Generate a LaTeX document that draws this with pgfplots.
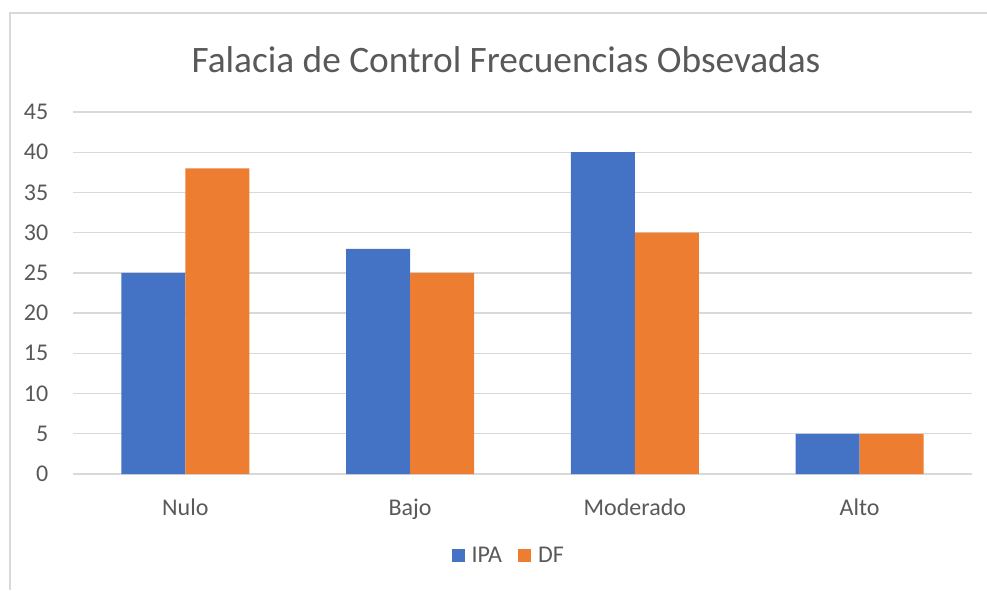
\documentclass[border=0pt]{standalone}
\usepackage{pgfplots}
\pgfplotsset{compat=1.18}
\usepackage{fontspec}
\setmainfont{Carlito}
\definecolor{ipa}{HTML}{4472C4}
\definecolor{df}{HTML}{ED7D31}
\definecolor{gridc}{HTML}{D9D9D9}
\definecolor{txt}{HTML}{595959}
\begin{document}
\begin{tikzpicture}
\path[use as bounding box] (0,0) rectangle (740.25pt,442.5pt);
\draw[gridc, line width=1pt] (7.5pt,0) -- (7.5pt,432.75pt) -- (740.25pt,432.75pt);
\node[txt, font=\fontsize{28}{33}\selectfont] at (379.5pt,397.5pt) {Falacia de Control Frecuencias Obsevadas};
\begin{axis}[
  at={(54.75pt,87pt)}, anchor=south west,
  scale only axis, width=674.25pt, height=271.5pt,
  ybar=0pt, bar width=48pt,
  xmin=-0.5, xmax=3.5, ymin=0, ymax=45,
  xtick={0,1,2,3}, xticklabels={Nulo,Bajo,Moderado,Alto},
  ytick={0,5,...,45},
  xmajorgrids=false, ymajorgrids=true,
  grid style={gridc, line width=1pt},
  axis line style={draw=none},
  major tick length=0pt,
  xtick style={draw=none}, ytick style={draw=none},
  tick label style={txt, font=\fontsize{18}{21}\selectfont},
  /pgf/number format/assume math mode=true,
  xticklabel style={anchor=base, yshift=-31pt},
  yticklabel style={anchor=east, xshift=-15pt},
  legend style={at={(0.485,-0.225)}, anchor=center, draw=none, legend columns=2,
    font=\fontsize{18}{21}\selectfont, text=txt,
    /tikz/every even column/.append style={column sep=10pt}},
  legend image code/.code={\fill (0pt,-5pt) rectangle (10pt,5pt); \path (13pt,0pt);},
]
\addplot[fill=ipa, draw=none] coordinates {(0,25) (1,28) (2,40) (3,5)};
\addplot[fill=df, draw=none] coordinates {(0,38) (1,25) (2,30) (3,5)};
\legend{IPA,DF}
\end{axis}
\end{tikzpicture}
\end{document}
